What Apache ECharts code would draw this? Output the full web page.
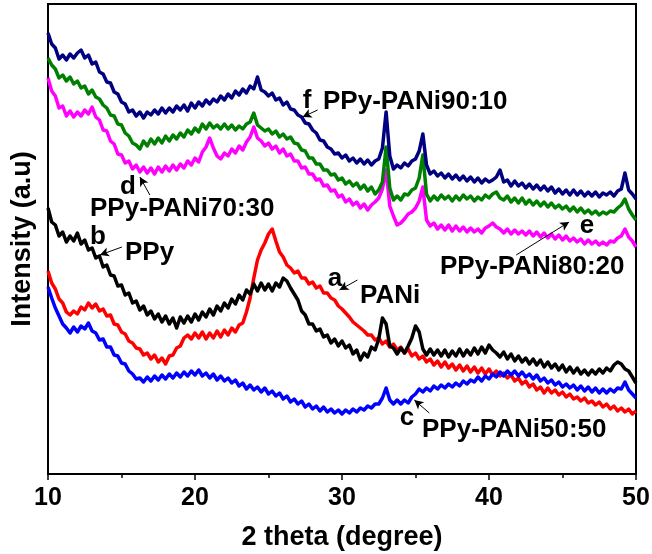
<!DOCTYPE html>
<html>
<head>
<meta charset="utf-8">
<script src="https://cdn.jsdelivr.net/npm/echarts@6/dist/echarts.min.js"></script>
<style>
  html, body { margin: 0; padding: 0; background: #fff; }
  #chart { width: 652px; height: 554px; }
</style>
</head>
<body>
<div id="chart"></div>
<script>
// XRD patterns, 2θ from 10° to 50° sampled every 0.25°
const thetaStart = 10;
const thetaStep = 0.25;
const xTicks = [10, 20, 30, 40, 50];

// a: PANi
const pani = [203,191,185,175,171,162,159,163,160,167,164,171,166,170,163,165,158,159,150,149,
  142,140,133,131,126,125,119,121,115,119,112,116,110,118,119,126,128,136,139,135,
  141,136,142,135,141,136,143,137,144,139,146,142,149,151,162,176,196,214,224,231,
  240,245,233,222,217,209,206,201,203,196,196,190,192,186,188,181,181,176,174,168,
  165,161,157,152,149,146,143,139,139,134,136,130,133,127,130,124,127,121,125,118,
  121,115,118,112,115,109,113,107,112,106,110,104,109,103,108,102,107,101,106,100,
  105,99,103,98,101,96,99,93,96,90,93,87,90,84,87,81,86,81,84,79,
  82,77,80,75,77,73,76,71,73,69,72,67,70,65,68,63,66,62,65,60,63];

// b: PPy
const ppy = [266,252,249,238,242,232,238,233,241,230,234,224,226,216,218,207,209,199,198,188,
  189,179,181,171,173,164,168,159,163,155,160,152,158,150,156,146,157,151,158,152,
  160,154,162,157,165,159,168,163,171,166,175,170,179,174,184,180,190,183,191,184,
  190,183,191,187,196,193,186,180,174,163,159,150,150,143,145,137,139,131,135,128,
  133,126,129,120,124,114,121,117,127,124,135,156,150,128,126,120,126,121,128,136,
  148,142,125,119,125,119,124,118,124,117,123,118,125,118,124,119,126,120,127,121,
  129,124,121,117,122,115,120,113,118,112,116,110,115,109,114,107,112,106,110,104,
  109,102,107,101,106,100,104,99,104,100,105,101,106,103,109,112,110,105,103,97,91];

// c: PPy-PANi 50:50
const blend5050 = [187,176,166,158,150,146,141,147,142,148,145,151,143,141,134,135,127,127,119,118,
  111,110,103,100,95,96,92,97,93,98,94,99,95,100,96,101,97,102,98,103,
  99,104,98,101,96,100,94,98,93,96,91,94,88,91,85,89,84,87,82,86,
  80,83,78,81,75,78,72,75,70,73,67,70,65,68,63,67,62,65,61,64,
  60,64,61,65,62,66,64,68,66,70,70,76,86,74,70,74,70,74,71,77,
  80,85,82,86,83,88,85,89,86,90,87,91,88,93,90,94,92,97,93,98,
  95,100,97,102,98,103,99,103,98,102,97,100,95,99,93,96,91,94,89,92,
  87,90,86,89,84,88,83,87,82,86,81,85,81,85,82,86,85,92,84,80,76];

// d: PPy-PANi 70:30
const blend7030 = [396,383,378,366,368,358,363,357,362,358,364,360,367,357,354,344,343,333,330,320,
  319,311,313,305,309,302,307,301,306,300,307,302,308,303,309,304,310,306,313,309,
  316,312,322,327,336,326,318,315,321,318,325,321,328,324,332,337,347,336,333,328,
  331,325,328,321,325,318,320,313,313,306,307,300,300,294,295,288,289,283,284,277,
  279,272,275,269,272,266,270,264,269,272,276,285,304,268,258,249,251,255,260,262,
  266,273,287,254,248,251,245,249,244,249,243,248,243,247,242,246,242,245,241,246,
  248,251,247,245,241,245,240,244,240,243,239,243,238,242,237,241,236,240,235,239,
  234,238,233,236,232,235,230,234,230,233,229,232,229,233,232,236,238,245,237,233,227];

// e: PPy-PANi 80:20
const blend8020 = [416,409,405,396,399,393,397,390,393,386,388,380,384,377,375,369,366,359,358,350,
  349,341,338,331,329,325,333,328,335,330,336,331,338,333,339,335,341,337,344,340,
  346,342,350,345,351,346,349,345,350,345,349,344,348,345,350,352,361,349,346,343,
  345,340,343,337,340,335,337,331,330,324,323,316,316,310,310,304,304,299,300,294,
  296,290,293,288,291,285,289,283,287,280,284,292,327,286,274,278,274,280,279,284,
  286,296,319,280,273,278,274,279,275,278,273,278,274,279,275,278,273,277,274,279,
  276,280,282,276,274,278,272,276,271,276,270,274,269,273,268,272,267,271,266,269,
  265,268,263,267,262,266,261,264,260,263,259,262,260,263,262,266,269,275,265,259,254];

// f: PPy-PANi 90:10
const blend9010 = [441,430,426,415,419,414,420,416,421,424,416,419,410,412,402,400,392,391,382,380,
  372,370,362,364,358,362,356,362,359,364,360,366,361,366,362,368,364,369,363,371,
  366,372,368,374,370,375,372,378,374,380,376,383,379,385,381,388,385,397,384,382,
  378,381,374,376,369,372,365,364,359,357,351,350,344,341,334,333,327,325,320,321,
  316,319,313,316,311,315,310,314,309,313,315,326,362,318,305,309,306,311,308,313,
  315,323,340,309,300,303,298,301,296,300,295,299,294,298,293,297,292,296,291,295,
  292,294,297,304,292,294,288,293,288,291,286,290,285,289,284,288,283,287,281,285,
  280,284,279,284,279,283,278,282,278,282,277,281,279,282,278,283,285,301,284,280,275];

const seriesDefs = [
  { name: 'PPy-PANi70:30', data: blend7030, color: '#ff00ff' },
  { name: 'PPy-PANi80:20', data: blend8020, color: '#008000' },
  { name: 'PPy-PANi90:10', data: blend9010, color: '#000080' },
  { name: 'PANi', data: pani, color: '#ff0000' },
  { name: 'PPy', data: ppy, color: '#000000' },
  { name: 'PPy-PANi50:50', data: blend5050, color: '#0000ff' }
];

// Pointer arrows (tail -> head) in data coordinates
const arrows = [
  [[28.34, 364], [27.32, 357]],
  [[16.93, 279], [16.25, 297]],
  [[15.03, 227], [13.53, 219]],
  [[31.05, 194], [29.83, 184]],
  [[35.94, 61], [34.92, 74]],
  [[41.85, 219], [45.45, 252]]
];

const FONT = '"Liberation Sans", Arial, sans-serif';

const toPairs = arr => arr.map((v, i) => [thetaStart + i * thetaStep, v]);

const series = seriesDefs.map(d => ({
  name: d.name,
  type: 'line',
  data: toPairs(d.data),
  showSymbol: false,
  silent: true,
  animation: false,
  lineStyle: { color: d.color, width: 3.5, join: 'round' },
  itemStyle: { color: d.color }
}));

series.push({
  type: 'line',
  data: [],
  silent: true,
  animation: false,
  markLine: {
    silent: true,
    animation: false,
    symbol: ['none', 'arrow'],
    symbolSize: [7, 9],
    label: { show: false },
    lineStyle: { color: '#000', width: 1, type: 'solid' },
    data: arrows.map(([a, b]) => [{ coord: a }, { coord: b }])
  }
});

const labelStyle = (text, x, y, align) => ({
  type: 'text',
  x: x, y: y,
  silent: true,
  style: {
    text: text,
    font: 'bold 26px ' + FONT,
    fill: '#000',
    textAlign: align || 'left',
    textVerticalAlign: 'middle'
  }
});

const chart = echarts.init(document.getElementById('chart'), null, { renderer: 'canvas' });
chart.setOption({
  animation: false,
  backgroundColor: '#fff',
  grid: { left: 48, right: 16, top: 4, bottom: 80, containLabel: false, outerBoundsMode: 'none',
    show: true, borderColor: '#000', borderWidth: 2, backgroundColor: 'transparent' },
  xAxis: {
    type: 'value', min: 10, max: 50, interval: 10,
    axisLine: { show: true, lineStyle: { color: '#000', width: 2 } },
    axisTick: { show: true, inside: false, length: 6, lineStyle: { color: '#000', width: 1.5 } },
    minorTick: { show: true, splitNumber: 2, length: 4, lineStyle: { color: '#000', width: 1.5 } },
    splitLine: { show: false },
    axisLabel: { color: '#000', fontWeight: 'bold', fontSize: 25, fontFamily: FONT, margin: 12,
      formatter: v => xTicks.includes(v) ? String(v) : '' },
    name: '2 theta (degree)', nameLocation: 'middle', nameGap: 50,
    nameTextStyle: { color: '#000', fontWeight: 'bold', fontSize: 27, fontFamily: FONT }
  },
  yAxis: {
    type: 'value', min: 0, max: 470,
    axisLine: { show: true, lineStyle: { color: '#000', width: 2 } },
    axisTick: { show: false },
    axisLabel: { show: false },
    splitLine: { show: false },
    name: 'Intensity (a.u)', nameLocation: 'middle', nameGap: 12, nameRotate: 90,
    nameTextStyle: { color: '#000', fontWeight: 'bold', fontSize: 27, fontFamily: FONT }
  },
  series: series,
  graphic: [
    labelStyle('f', 307, 101, 'center'),
    labelStyle('PPy-PANi90:10', 323, 102),
    labelStyle('d', 128, 187, 'center'),
    labelStyle('PPy-PANi70:30', 90, 209),
    labelStyle('b', 98, 237, 'center'),
    labelStyle('PPy', 125, 253),
    labelStyle('a', 335, 279, 'center'),
    labelStyle('PANi', 360, 296),
    labelStyle('c', 407, 418, 'center'),
    labelStyle('PPy-PANi50:50', 422, 430),
    labelStyle('e', 587, 226, 'center'),
    labelStyle('PPy-PANi80:20', 440, 267)
  ]
});
</script>
</body>
</html>
